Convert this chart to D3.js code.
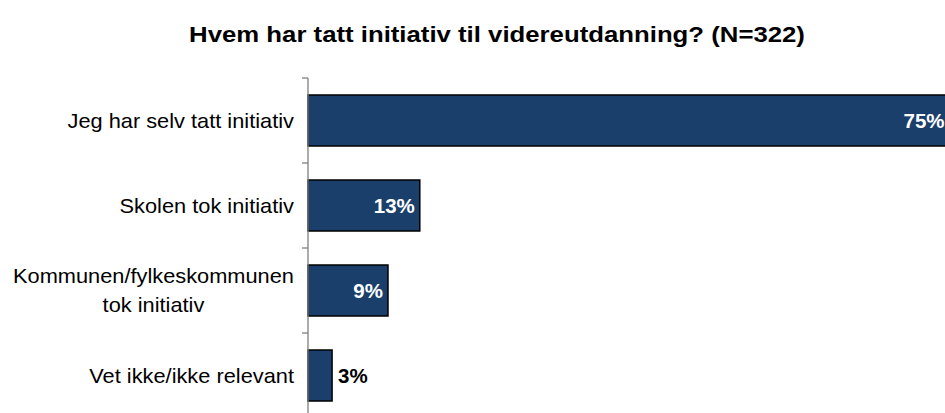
<!DOCTYPE html>
<html><head><meta charset="utf-8">
<script src="https://cdn.jsdelivr.net/npm/d3@7"></script>
<style>
html,body{margin:0;padding:0;background:#fff;overflow:hidden}
text{font-family:"Liberation Sans",Arial,sans-serif}
</style></head>
<body>
<script>
const title = "Hvem har tatt initiativ til videreutdanning? (N=322)";
const categories = ["Jeg har selv tatt initiativ","Skolen tok initiativ","Kommunen/fylkeskommunen tok initiativ","Vet ikke/ikke relevant"];
const categoryLines = [["Jeg har selv tatt initiativ"],["Skolen tok initiativ"],["Kommunen/fylkeskommunen","tok initiativ"],["Vet ikke/ikke relevant"]];
const values = [74.6, 13.0, 9.3, 2.8];

const W = 945, H = 413;
const svg = d3.select("body").append("svg").attr("width", W).attr("height", H);

const x = d3.scaleLinear().domain([0, 100]).range([308, 1168]);
const y = d3.scaleBand().domain(categories).range([78, 418]).paddingInner(0.4).paddingOuter(0.2);

// title (slightly widened to match reference glyph proportions)
svg.append("g").attr("transform", "translate(497,41.5) scale(1.12,1)")
  .append("text").attr("text-anchor", "middle")
  .attr("font-size", 23).attr("font-weight", "bold").attr("fill", "#000").text(title);

// bars
svg.selectAll("rect.bar").data(categories).join("rect").attr("class","bar")
  .attr("x", x(0)).attr("y", d => y(d))
  .attr("width", (d,i) => x(values[i]) - x(0)).attr("height", y.bandwidth())
  .attr("fill", "#1a3f6a").attr("stroke", "#000").attr("stroke-width", 1.5);

// axis
const axisG = svg.append("g").attr("stroke", "#7f7f7f").attr("stroke-width", 1.3);
axisG.append("line").attr("x1", x(0)).attr("x2", x(0)).attr("y1", y.range()[0]).attr("y2", y.range()[1]);
axisG.selectAll("line.tick").data(categories.map((d,i)=> y.range()[0] + i*y.step())).join("line")
  .attr("class","tick").attr("x1", x(0)-6).attr("x2", x(0)).attr("y1", d=>d).attr("y2", d=>d);

// category labels (block right-aligned, lines centred within block)
const sx = 1.09, labelRight = 294, lh = 29;
categories.forEach((c,i) => {
  const lines = categoryLines[i];
  const cy = y(c) + y.bandwidth()/2;
  const g = svg.append("g");
  const texts = lines.map((ln, j) => g.append("text").attr("font-size", 20).attr("fill","#000")
      .attr("text-anchor","middle").attr("dy","0.35em").text(ln));
  const maxW = d3.max(texts, t => t.node().getComputedTextLength()) * sx;
  texts.forEach((t, j) => {
    const ty = cy + (j - (lines.length-1)/2)*lh;
    t.attr("transform", `translate(${labelRight - maxW/2},${ty}) scale(${sx},1)`);
  });
});

// value labels
const fmt = d3.format(".0f");
categories.forEach((c,i) => {
  const v = values[i];
  const end = x(v);
  const inside = v > 5;
  svg.append("text")
    .attr("x", inside ? end - 5 : end + 6)
    .attr("y", y(c) + y.bandwidth()/2).attr("dy","0.36em")
    .attr("text-anchor", inside ? "end" : "start")
    .attr("font-size", 20.5).attr("font-weight","bold")
    .attr("fill", inside ? "#fff" : "#000")
    .text(fmt(v) + "%");
});
</script>
</body></html>
